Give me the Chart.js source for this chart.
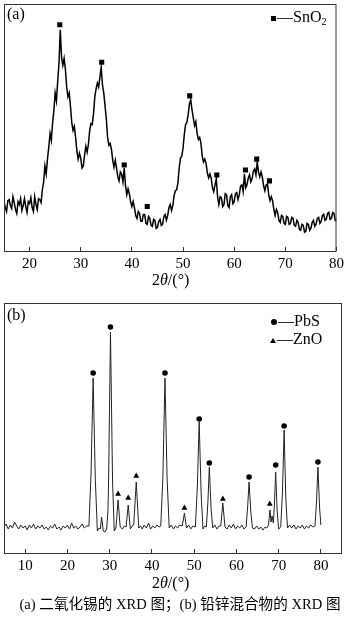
<!DOCTYPE html>
<html>
<head>
<meta charset="utf-8">
<script src="https://cdn.jsdelivr.net/npm/chart.js@4/dist/chart.umd.min.js"></script>
<style>
  body { margin: 0; background: #fff; }
  #wrap { position: relative; width: 352px; height: 617px; font-family: "Liberation Serif", "Noto Sans CJK SC", serif; color: #000; }
  canvas { position: absolute; left: 0; }
  .txt { position: absolute; white-space: nowrap; line-height: 1; }
  .sq { display: inline-block; width: 5px; height: 5px; background: #000; vertical-align: middle; margin-right: 1px; }
  .dot { display: inline-block; width: 6px; height: 6px; border-radius: 50%; background: #000; vertical-align: middle; margin-right: 1px; }
  .tri { display: inline-block; width: 0; height: 0; border-left: 3px solid transparent; border-right: 3px solid transparent; border-bottom: 5px solid #000; vertical-align: middle; margin-right: 1px; }
  sub { font-size: 10px; vertical-align: -3px; }
</style>
</head>
<body>
<div id="wrap">
  <canvas id="chartA" width="352" height="275" style="top:0"></canvas>
  <canvas id="chartB" width="352" height="287" style="top:290px"></canvas>

  <div class="txt" style="left:7px;top:6px;font-size:16px">(a)</div>
  <div class="txt" style="left:271px;top:9px;font-size:16px"><span class="sq"></span>—SnO<sub>2</sub></div>
  <div class="txt" style="left:152px;top:272px;font-size:16px">2<i>θ</i>/(°)</div>

  <div class="txt" style="left:7px;top:307px;font-size:16px">(b)</div>
  <div class="txt" style="left:271px;top:313px;font-size:16px"><span class="dot"></span>—PbS</div>
  <div class="txt" style="left:270px;top:331px;font-size:16px"><span class="tri"></span>—ZnO</div>
  <div class="txt" style="left:152px;top:575px;font-size:16px">2<i>θ</i>/(°)</div>

  <div class="txt" style="left:4px;width:352px;text-align:center;top:597px;font-size:14.6px">(a) 二氧化锡的 XRD 图；(b) 铅锌混合物的 XRD 图</div>
</div>

<script>
// (a) SnO2 pattern, read every 0.25 deg from 15 to 80 (one group of 4 per degree)
const snStart = 15;
const snStep = 0.25;
const snCounts = [
  50, 44, 40, 51,    52, 46, 43, 55,    49, 42, 38, 50,    47, 53, 41, 46,
  53, 45, 39, 50,    48, 54, 44, 40,    55, 47, 42, 53,    52, 49, 62, 70,
  86, 78, 93, 105,   119, 112, 130, 142, 160, 152, 172, 190, 224, 196, 188, 195,
  184, 166, 156, 160, 146, 130, 122, 126, 115, 101, 93, 99,  94, 84, 86, 97,
  106, 100, 108, 122, 129, 128, 139, 156, 164, 170, 166, 176, 186, 168, 160, 147,
  134, 115, 107, 109, 103, 92, 85, 92,   84, 75, 71, 80,    78, 70, 84, 66,
  57, 63, 58, 50,    45, 50, 44, 36,    33, 40, 38, 30,    30, 37, 37, 28,
  27, 35, 33, 26,    25, 32, 31, 23,    24, 30, 32, 26,    27, 35, 37, 31,
  36, 44, 47, 41,    46, 56, 61, 62,    69, 84, 94, 96,    104, 118, 128, 130,
  138, 149, 153, 143, 135, 127, 131, 119, 113, 115, 109, 96, 90, 93, 89, 79,
  74, 78, 74, 64,    60, 67, 73, 55,    47, 55, 54, 45,    47, 58, 57, 46,
  44, 55, 57, 48,    50, 58, 59, 52,    57, 66, 67, 60,    78, 64, 67, 74,
  77, 70, 73, 81,    83, 77, 90, 80,    75, 80, 75, 66,    61, 67, 68, 57,
  51, 55, 51, 42,    36, 42, 39, 31,    29, 36, 35, 28,    27, 35, 34, 27,
  28, 34, 33, 26,    25, 31, 29, 22,    21, 27, 26, 19,    20, 28, 27, 21,
  23, 29, 31, 25,    27, 33, 34, 28,    30, 36, 37, 31,    32, 38, 39, 32,
  33, 39, 38, 31,
  32
];
const snPeakAngle = [25.9, 34.1, 38.5, 43.0, 51.3, 56.6, 62.2, 64.4, 66.9];
const snPeakMark  = [229, 191, 87, 45, 157, 77, 82, 93, 71];
const snTicks = [20, 30, 40, 50, 60, 70, 80];

// (b) PbS / ZnO mixture pattern
const mixAngle = [
  5.0, 5.5, 6.0, 6.5, 7.0, 7.5, 8.0, 8.5, 9.0, 9.5,
  10.0, 10.5, 11.0, 11.5, 12.0, 12.5, 13.0, 13.5, 14.0, 14.5,
  15.0, 15.5, 16.0, 16.5, 17.0, 17.5, 18.0, 18.5, 19.0, 19.5,
  20.0, 20.5, 21.0, 21.5, 22.0, 22.5, 23.0, 23.5, 24.0, 24.5,
  25.1, 25.6, 26.1, 26.6, 27.1, 27.5, 27.8, 28.1, 28.5, 28.9,
  29.3, 29.6, 29.75, 30.2, 30.7, 31.1, 31.5, 32.0, 32.5, 33.0,
  33.5, 33.9, 34.4, 34.9, 35.3, 35.7, 36.3, 36.9, 37.3, 37.7,
  38.2, 38.7, 39.2, 39.7, 40.2, 40.7, 41.2, 41.7, 42.1, 42.6,
  43.1, 43.6, 44.1, 44.6, 45.1, 45.6, 46.1, 46.6, 47.2, 47.7,
  48.2, 48.7, 49.2, 49.7, 50.3, 50.75, 51.2, 51.65, 52.1, 52.5,
  52.9, 53.25, 53.6, 54.0, 54.4, 54.9, 55.4, 55.9, 56.3, 56.8,
  57.3, 57.8, 58.3, 58.8, 59.3, 59.8, 60.3, 60.8, 61.3, 61.8,
  62.3, 62.65, 63.0, 63.4, 63.8, 64.3, 64.8, 65.3, 65.8, 66.3,
  66.8, 67.2, 67.6, 67.95, 68.2, 68.45, 68.75, 69.0, 69.3, 69.65,
  70.0, 70.5, 70.9, 71.3, 71.7, 72.1, 72.6, 73.1, 73.6, 74.1,
  74.6, 75.1, 75.6, 76.1, 76.6, 77.1, 77.6, 78.1, 78.6, 78.95,
  79.3, 79.7, 80.0
];
const mixCounts = [
  26, 29, 24, 28, 25, 31, 27, 24, 28, 25,
  27, 23, 28, 25, 29, 24, 27, 25, 28, 24,
  26, 23, 27, 25, 29, 24, 26, 23, 27, 25,
  28, 24, 30, 25, 27, 24, 26, 29, 25, 27,
  27, 80, 175, 75, 22, 25, 24, 36, 22, 21,
  24, 42, 70, 221, 70, 22, 25, 53, 26, 24,
  27, 26, 48, 24, 27, 28, 71, 25, 27, 24,
  28, 25, 30, 24, 27, 25, 28, 26, 27, 75,
  175, 75, 25, 28, 24, 27, 25, 28, 27, 40,
  25, 28, 24, 27, 26, 65, 131, 60, 24, 27,
  26, 50, 86, 45, 25, 28, 24, 27, 27, 50,
  26, 24, 28, 25, 29, 24, 27, 25, 28, 24,
  26, 45, 71, 42, 25, 24, 27, 24, 26, 23,
  26, 25, 28, 43, 31, 37, 30, 48, 81, 42,
  24, 26, 60, 123, 55, 25, 28, 25, 28, 24,
  27, 25, 28, 24, 27, 25, 28, 26, 27, 50,
  86, 45, 28
];
const pbsAngle = [26.1, 30.2, 43.1, 51.2, 53.6, 63.0, 69.3, 71.3, 79.3];
const pbsMark  = [180, 226, 180, 134, 90, 76, 88, 127, 91];
const znoAngle = [32.0, 34.4, 36.3, 47.7, 56.8, 67.9];
const znoMark  = [59, 55, 77, 45, 54, 49];
const mixTicks = [10, 20, 30, 40, 50, 60, 70, 80];

const snLine = snCounts.map((v, i) => ({x: snStart + i * snStep, y: v}));
const mixLine = mixAngle.map((a, i) => ({x: a, y: mixCounts[i]}));
const toPts = (xs, ys) => xs.map((a, i) => ({x: a, y: ys[i]}));

// frame around the plot area
const boxPlugin = {
  id: 'box',
  afterDraw(chart) {
    const {ctx, chartArea: a} = chart;
    ctx.save();
    ctx.strokeStyle = '#333';
    ctx.lineWidth = 1;
    ctx.strokeRect(a.left + 0.5, a.top + 0.5, a.right - a.left - 1, a.bottom - a.top);
    ctx.restore();
  }
};

function makePanel(id, datasets, xmin, xmax, ticks, padTop) {
  return new Chart(document.getElementById(id), {
    type: 'scatter',
    data: {datasets},
    options: {
      responsive: false,
      animation: false,
      layout: {padding: {left: 3, right: 10, top: padTop, bottom: 0}},
      plugins: {legend: {display: false}, tooltip: {enabled: false}},
      scales: {
        x: {
          type: 'linear',
          min: xmin,
          max: xmax,
          afterBuildTicks: s => { s.ticks = ticks.map(v => ({value: v})); },
          afterFit: s => { s.height = 24; },
          grid: {drawOnChartArea: false, drawTicks: true, tickLength: -4, color: '#333'},
          border: {display: false},
          ticks: {padding: 8, color: '#000', maxRotation: 0, autoSkip: false,
                  font: {family: 'Liberation Serif', size: 15}}
        },
        y: {display: false, min: 0, max: 250}
      }
    },
    plugins: [boxPlugin]
  });
}

makePanel('chartA', [
  {data: snLine, showLine: true, pointRadius: 0, borderColor: '#000', borderWidth: 1.5, tension: 0},
  {data: toPts(snPeakAngle, snPeakMark), showLine: false, pointStyle: 'rect', pointRadius: 3.6,
   backgroundColor: '#000', borderWidth: 0}
], 15, 80, snTicks, 1);

makePanel('chartB', [
  {data: mixLine, showLine: true, pointRadius: 0, borderColor: '#222', borderWidth: 1, tension: 0},
  {data: toPts(pbsAngle, pbsMark), showLine: false, pointStyle: 'circle', pointRadius: 2.8,
   backgroundColor: '#000', borderWidth: 0},
  {data: toPts(znoAngle, znoMark), showLine: false, pointStyle: 'triangle', pointRadius: 3.4,
   backgroundColor: '#000', borderWidth: 0}
], 5, 85, mixTicks, 13);
</script>
</body>
</html>
